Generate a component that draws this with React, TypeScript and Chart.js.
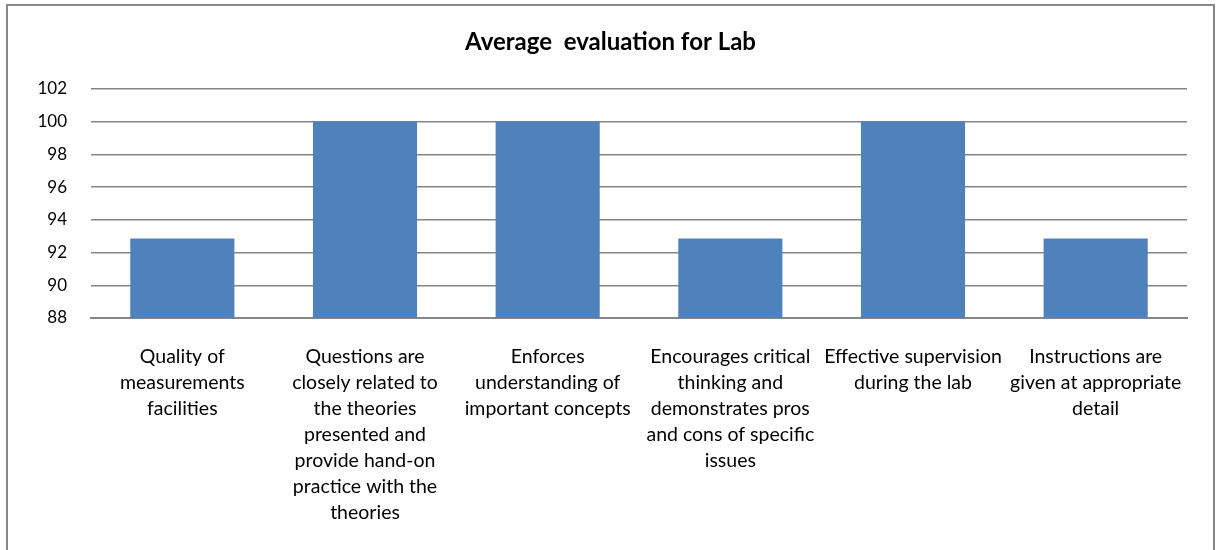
import React, { useEffect, useRef } from "react";
import { Chart, registerables } from "chart.js";

Chart.register(...registerables);

const categories: string[][] = [
  ["Quality of", "measurements", "facilities"],
  ["Questions are", "closely related to", "the theories", "presented and", "provide hand-on", "practice with the", "theories"],
  ["Enforces", "understanding of", "important concepts"],
  ["Encourages critical", "thinking and", "demonstrates pros", "and cons of specific", "issues"],
  ["Effective supervision", "during the lab"],
  ["Instructions are", "given at appropriate", "detail"],
];
const values: number[] = [92.86, 100, 100, 92.86, 100, 92.86];
const titleText = "Average  evaluation for Lab";
const yMin = 88;
const yMax = 102;
const yStep = 2;

const FONT = "Lato, 'Open Sans', sans-serif";

export default function App() {
  const ref = useRef<HTMLCanvasElement | null>(null);
  useEffect(() => {
    if (!ref.current) return;
    const chart = new Chart(ref.current, {
      type: "bar",
      data: {
        labels: categories,
        datasets: [
          {
            data: values,
            backgroundColor: "#4F81BD",
            borderWidth: 0,
            barPercentage: 0.57,
            categoryPercentage: 1,
          },
        ],
      },
      options: {
        animation: false,
        responsive: false,
        layout: { padding: 0 },
        plugins: {
          legend: { display: false },
          tooltip: { enabled: false },
          title: {
            display: true,
            text: titleText,
            color: "#000",
            font: { family: FONT, size: 24, weight: "bold", lineHeight: 1.2 },
            padding: { top: 22, bottom: 32 },
          },
        },
        scales: {
          x: {
            grid: { display: false, drawTicks: false },
            border: { display: true, color: "#868686", width: 2 },
            ticks: {
              color: "#000",
              font: { family: FONT, size: 19.5, lineHeight: "26px" as any },
              padding: 26,
              maxRotation: 0,
              minRotation: 0,
              autoSkip: false,
            },
            afterFit: (s: any) => {
              s.height = 248;
            },
          },
          y: {
            min: yMin,
            max: yMax,
            grid: { color: "#868686", lineWidth: 1.5, drawTicks: false },
            border: { display: false },
            ticks: {
              stepSize: yStep,
              color: "#000",
              font: { family: FONT, size: 17 },
              padding: 24,
            },
            afterFit: (s: any) => {
              s.width = 83;
            },
          },
          yRight: {
            position: "right",
            display: true,
            grid: { display: false, drawTicks: false },
            border: { display: false },
            ticks: { display: false },
            afterFit: (s: any) => {
              s.width = 26;
            },
          },
        },
      },
    });
    return () => chart.destroy();
  }, []);
  return (
    <div
      style={{
        position: "absolute",
        left: 6,
        top: 4,
        width: 1209,
        height: 600,
        border: "2px solid #878787",
        boxSizing: "border-box",
        background: "#fff",
        overflow: "hidden",
      }}
    >
      <canvas ref={ref} width={1205} height={560} style={{ display: "block" }} />
    </div>
  );
}
